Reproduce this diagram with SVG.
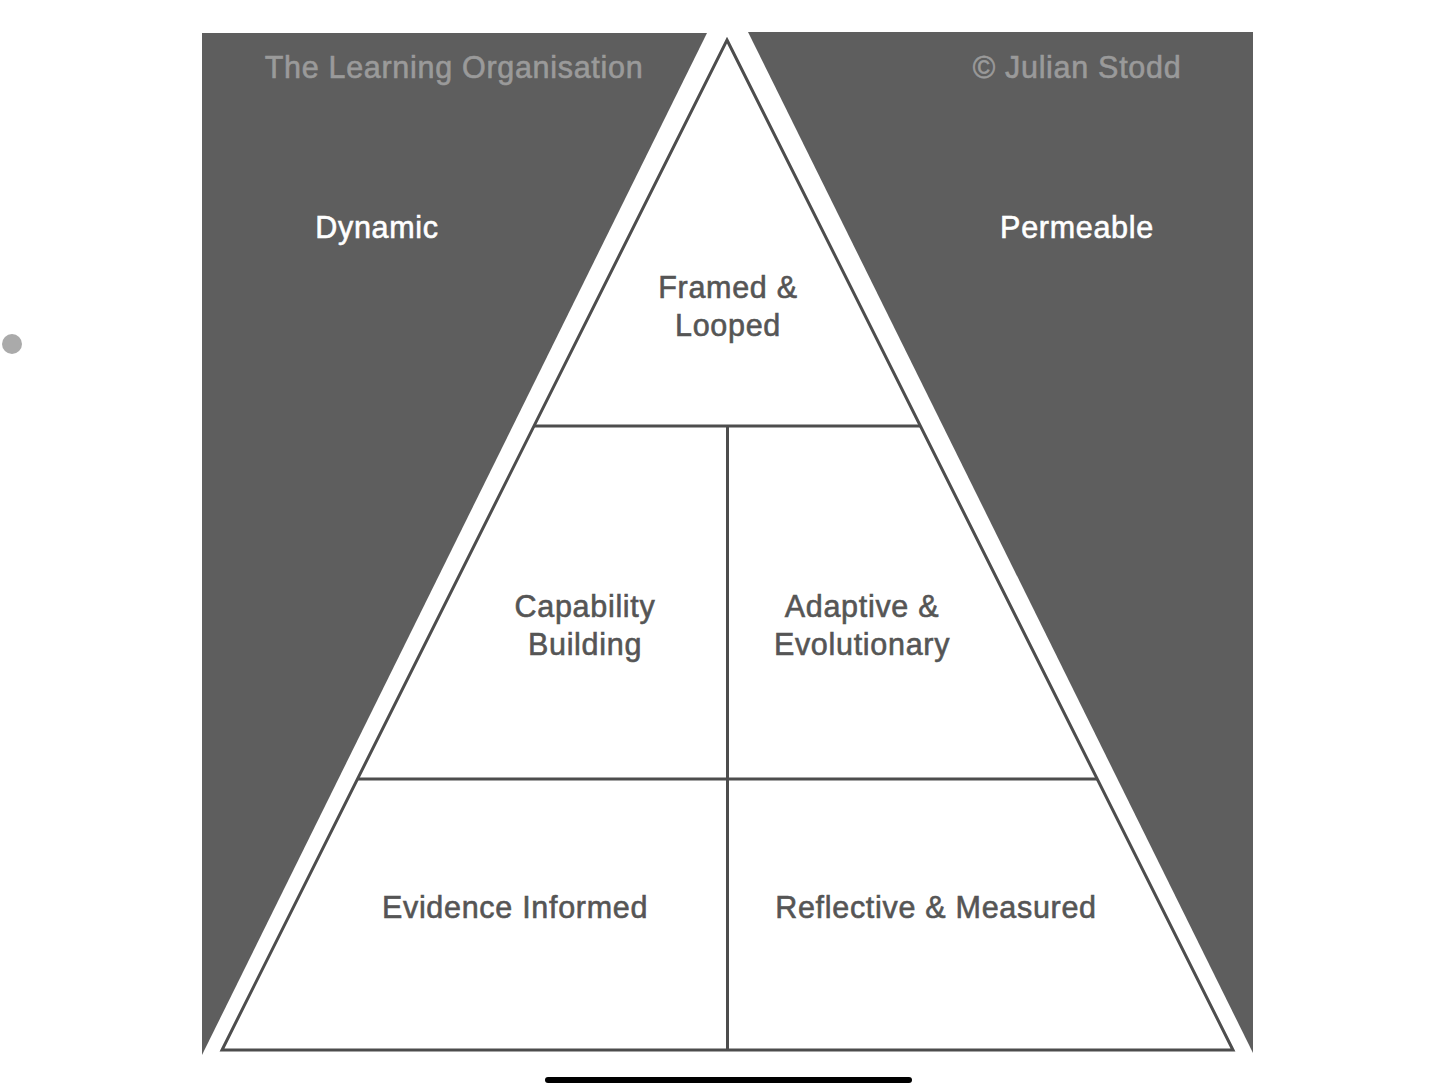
<svg xmlns="http://www.w3.org/2000/svg" width="1456" height="1091" viewBox="0 0 1456 1091">
<style>
.dark{fill:#5e5e5e}
.edge{stroke:#4d4d4d;stroke-width:3;fill:none;stroke-linejoin:miter}
text{font-family:"Liberation Sans",Arial,sans-serif;font-size:30.5px;letter-spacing:0.7px;text-anchor:middle;stroke-width:0.6px}
.hdr{fill:#9a9a9a;stroke:#9a9a9a}
.side{fill:#ffffff;stroke:#ffffff}
.lbl{fill:#555555;stroke:#555555}
</style>
<rect width="1456" height="1091" fill="#ffffff"/>
<g id="left-panel">
<polygon class="dark" points="202,33 707,33 202,1055"/>
<text class="hdr" x="454" y="78">The Learning Organisation</text>
<text class="side" x="377" y="238">Dynamic</text>
</g>
<g id="right-panel">
<polygon class="dark" points="748,32 1253,32 1253,1053"/>
<text class="hdr" x="1077" y="78">© Julian Stodd</text>
<text class="side" x="1077" y="238">Permeable</text>
</g>
<g id="connectors">
<polygon class="edge" points="727,40 1233,1050 222,1050"/>
<line class="edge" x1="534" y1="426" x2="920" y2="426"/>
<line class="edge" x1="358" y1="779" x2="1097" y2="779"/>
<line class="edge" x1="727.5" y1="426" x2="727.5" y2="1050"/>
</g>
<g id="node-framed">
<text class="lbl" x="728" y="298">Framed &amp;</text>
<text class="lbl" x="728" y="336">Looped</text>
</g>
<g id="node-capability">
<text class="lbl" x="585" y="617">Capability</text>
<text class="lbl" x="585" y="655">Building</text>
</g>
<g id="node-adaptive">
<text class="lbl" x="862" y="617">Adaptive &amp;</text>
<text class="lbl" x="862" y="655">Evolutionary</text>
</g>
<g id="node-evidence">
<text class="lbl" x="515" y="918">Evidence Informed</text>
</g>
<g id="node-reflective">
<text class="lbl" x="936" y="918">Reflective &amp; Measured</text>
</g>
<circle cx="12" cy="344" r="10" fill="#aaaaaa"/>
<line x1="548" y1="1080" x2="909" y2="1080" stroke="#000000" stroke-width="6" stroke-linecap="round"/>
</svg>
